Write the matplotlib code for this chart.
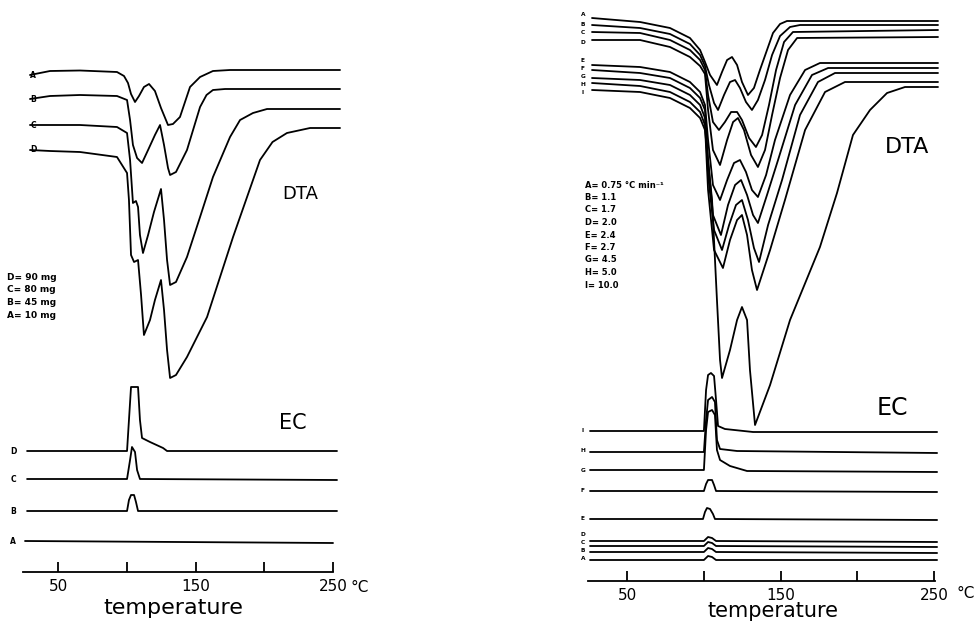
import matplotlib.pyplot as plt

# temperatures in degC, signal in arbitrary units (DTA endotherm downwards)
# ---- left figure: sample mass series, DTA ----
dta1_A = [(29.6, 525), (44.2, 529), (66.0, 529.5), (92.9, 528), (98.0, 524), (100.9, 517),
          (103.1, 506), (106.0, 498), (108.9, 504), (112.5, 513), (116.2, 516), (120.5, 509),
          (124.9, 492), (130.0, 475), (133.6, 476), (138.7, 483), (146.0, 513), (153.3, 523),
          (162.7, 529), (175.1, 530), (255.1, 530)]
dta1_B = [(29.6, 501), (44.2, 504), (66.0, 505), (92.9, 504), (100.2, 500), (102.4, 480),
          (104.5, 455), (107.5, 442), (111.1, 437), (115.5, 450), (120.5, 465), (124.2, 475),
          (127.1, 455), (130.0, 432), (131.5, 425), (135.8, 428), (143.8, 450), (153.3, 493),
          (158.0, 505), (162.7, 510), (171.5, 511), (255.1, 511)]
dta1_C = [(29.6, 475), (66.0, 475), (92.9, 473), (100.2, 467), (102.4, 440), (104.5, 397),
          (106.7, 399), (108.2, 393), (109.6, 365), (111.8, 347), (115.5, 365), (119.8, 388),
          (124.9, 411), (127.1, 380), (129.3, 340), (131.5, 315), (135.8, 318), (143.8, 343),
          (153.3, 383), (162.7, 423), (175.1, 463), (182.4, 480), (191.8, 487), (202.0, 491),
          (255.1, 491)]
dta1_D = [(29.6, 450), (44.2, 449), (66.0, 448), (92.9, 443), (100.2, 427), (101.6, 400),
          (103.1, 345), (105.3, 338), (108.2, 340), (110.4, 305), (112.5, 265), (116.9, 280),
          (120.5, 300), (124.9, 320), (127.1, 290), (129.3, 250), (131.5, 222), (135.8, 225),
          (143.8, 243), (158.4, 283), (177.3, 363), (196.9, 440), (206.0, 458), (216.5, 467),
          (233.3, 472), (255.1, 472)]

# ---- left figure: EC ----
ec1_D = [(27.5, 149), (100.2, 149), (101.6, 180), (103.1, 213), (108.2, 213), (109.6, 180),
         (111.1, 162), (116.9, 158), (126.4, 152), (129.3, 149), (252.9, 149)]
ec1_C = [(27.5, 121), (100.2, 121), (102.4, 140), (103.8, 153), (106.0, 148), (107.5, 130),
         (109.6, 121), (252.9, 120)]
ec1_B = [(27.5, 89), (100.2, 89), (101.6, 100), (103.1, 105), (105.3, 105), (106.7, 98),
         (108.2, 89), (252.9, 89)]
ec1_A = [(26.0, 59), (250.0, 57)]

masses = ["D= 90 mg", "C= 80 mg", "B= 45 mg", "A= 10 mg"]

# ---- right figure: heating-rate series, DTA ----
dta2_A = [(27.2, 582), (58.5, 578), (78.0, 572), (91.0, 562), (97.6, 550), (100.8, 538),
          (104.1, 525), (108.6, 515), (111.9, 528), (115.2, 540), (118.4, 543), (121.7, 535),
          (124.9, 518), (128.8, 505), (132.7, 512), (136.6, 530), (141.2, 550), (145.1, 567),
          (149.7, 576), (154.2, 579), (252.6, 579)]
dta2_B = [(27.2, 575), (58.5, 572), (78.0, 566), (91.0, 556), (97.6, 545), (100.8, 534),
          (103.4, 515), (106.7, 497), (109.3, 490), (113.2, 505), (117.1, 518), (120.4, 520),
          (123.6, 512), (127.5, 498), (131.4, 490), (135.3, 500), (139.9, 520), (144.5, 545),
          (149.7, 564), (156.2, 573), (162.7, 575), (252.6, 575)]
dta2_C = [(27.2, 568), (58.5, 567), (78.0, 560), (91.0, 550), (97.6, 540), (100.8, 530),
          (102.8, 505), (106.0, 478), (109.9, 470), (113.8, 478), (117.8, 488), (121.7, 488),
          (124.9, 480), (129.5, 462), (134.0, 453), (138.0, 465), (142.5, 495), (147.1, 530),
          (152.3, 558), (158.1, 568), (252.6, 570)]
dta2_D = [(27.2, 560), (58.5, 560), (78.0, 553), (91.0, 543), (97.6, 534), (100.8, 526),
          (102.8, 490), (106.0, 450), (110.6, 435), (115.2, 460), (119.1, 478), (122.3, 482),
          (126.2, 470), (130.8, 445), (135.3, 433), (139.9, 450), (144.5, 485), (149.7, 522),
          (154.9, 550), (160.8, 562), (252.6, 563)]
dta2_E = [(27.2, 535), (58.5, 533), (78.0, 528), (91.0, 518), (97.6, 508), (100.8, 495),
          (102.8, 460), (106.0, 415), (110.6, 400), (115.2, 420), (119.7, 437), (123.6, 440),
          (127.5, 428), (131.4, 410), (135.3, 403), (140.6, 425), (146.4, 460), (156.2, 505),
          (166.0, 530), (175.7, 537), (252.6, 537)]
dta2_F = [(27.2, 530), (58.5, 527), (78.0, 522), (91.0, 512), (97.6, 502), (100.8, 490),
          (102.8, 440), (106.0, 385), (111.2, 365), (115.8, 395), (120.4, 415), (124.3, 420),
          (128.2, 405), (132.1, 385), (135.3, 377), (141.2, 405), (148.4, 440), (159.5, 495),
          (170.5, 525), (181.0, 532), (252.6, 532)]
dta2_G = [(27.2, 522), (58.5, 520), (78.0, 515), (91.0, 505), (97.6, 495), (100.8, 482),
          (102.8, 425), (106.7, 370), (111.9, 350), (116.5, 375), (121.0, 395), (124.9, 400),
          (128.8, 380), (132.7, 352), (136.0, 338), (141.9, 375), (151.0, 420), (162.7, 485),
          (174.4, 518), (185.5, 527), (252.6, 527)]
dta2_H = [(27.2, 517), (58.5, 514), (78.0, 508), (91.0, 498), (97.6, 488), (100.8, 475),
          (102.8, 410), (106.7, 350), (112.5, 332), (117.1, 360), (121.7, 380), (124.9, 385),
          (128.2, 365), (131.4, 330), (134.7, 310), (143.2, 350), (152.9, 400), (166.0, 470),
          (179.0, 508), (192.0, 518), (252.6, 518)]
dta2_I = [(27.2, 510), (58.5, 508), (78.0, 502), (91.0, 492), (97.6, 482), (100.8, 470),
          (105.4, 400), (108.6, 300), (110.6, 240), (111.9, 222), (117.1, 250), (121.7, 280),
          (124.9, 293), (128.2, 280), (130.1, 230), (133.4, 175), (143.2, 215), (156.2, 280),
          (175.7, 353), (186.8, 407), (197.2, 465), (208.3, 490), (219.4, 507), (231.1, 513),
          (252.6, 513)]

# ---- right figure: EC ----
ec2_I = [(25.9, 169), (100.1, 169), (101.5, 210), (102.8, 225), (104.7, 227), (106.7, 224),
         (108.0, 200), (109.3, 174), (113.8, 171), (132.1, 168), (252.0, 168)]
ec2_H = [(25.9, 148), (100.1, 148), (101.5, 180), (102.8, 200), (105.4, 203), (107.3, 198),
         (108.6, 160), (110.6, 151), (121.7, 149), (252.0, 147)]
ec2_G = [(25.9, 130), (100.1, 130), (101.5, 170), (102.8, 188), (105.4, 190), (107.3, 185),
         (108.6, 150), (110.6, 140), (117.1, 134), (128.2, 129), (252.0, 128)]
ec2_F = [(25.9, 109), (100.1, 109), (101.5, 116), (102.8, 120), (105.4, 120), (106.7, 115),
         (108.0, 109), (252.0, 108)]
ec2_E = [(25.9, 81), (99.5, 81), (100.8, 88), (102.1, 92), (104.1, 91), (106.0, 86),
         (107.3, 81), (252.0, 80)]
ec2_D = [(25.9, 59), (100.1, 59), (102.8, 63), (105.4, 62), (108.0, 59), (252.0, 58)]
ec2_C = [(25.9, 54), (100.1, 54), (102.8, 58), (105.4, 57), (108.0, 54), (252.0, 53)]
ec2_B = [(25.9, 48), (100.1, 48), (102.8, 52), (105.4, 51), (108.0, 48), (252.0, 47)]
ec2_A = [(25.9, 40), (100.1, 40), (102.8, 44), (105.4, 43), (108.0, 40), (252.0, 40)]

rates = ["A= 0.75 \u00b0C min\u207b\u00b9", "B= 1.1", "C= 1.7", "D= 2.0", "E= 2.4",
         "F= 2.7", "G= 4.5", "H= 5.0", "I= 10.0"]

ticks = [50, 100, 150, 200, 250]
tick_labels = ["50", "", "150", "", "250"]

LW = 1.3
plt.rcParams["font.family"] = ["DejaVu Sans"]


def setup_axes(ax, xlim, axis_y, bounds):
    ax.set_xlim(*xlim)
    ax.set_ylim(-23, 600)
    for side in ("top", "left", "right"):
        ax.spines[side].set_visible(False)
    ax.spines["bottom"].set_position(("data", axis_y))
    ax.spines["bottom"].set_bounds(*bounds)
    ax.spines["bottom"].set_linewidth(LW)
    ax.set_yticks([])
    ax.set_xticks(ticks, labels=tick_labels)
    ax.tick_params(axis="x", direction="in", length=7, width=LW, pad=5, labelsize=11)
    ax.patch.set_alpha(0)


def draw(ax, curves):
    for pts in curves:
        t, y = zip(*pts)
        ax.plot(t, y, color="black", lw=LW, solid_joinstyle="round", solid_capstyle="round")


fig = plt.figure(figsize=(9.77, 6.23), dpi=100)
axL = fig.add_axes([0, 0, 488 / 977, 1])
axR = fig.add_axes([488 / 977, 0, 489 / 977, 1])

small = dict(fontsize=5.5, fontweight="bold", ha="center", va="center")
tiny = dict(fontsize=4.2, fontweight="bold", ha="center", va="center")

# left
setup_axes(axL, (7.82, 362.7), 28.3, (24.5, 250))
draw(axL, [dta1_A, dta1_B, dta1_C, dta1_D, ec1_D, ec1_C, ec1_B, ec1_A])
for lab, pts in zip("ABCD", [dta1_A, dta1_B, dta1_C, dta1_D]):
    axL.text(31.8, pts[0][1], lab, **small)
for lab, pts in zip("DCBA", [ec1_D, ec1_C, ec1_B, ec1_A]):
    axL.text(17.3, pts[0][1], lab, **small)
for i, txt in enumerate(masses):
    axL.text(12.9, 323 - 12.7 * i, txt, fontsize=6.5, fontweight="bold", va="center")
axL.text(226.0, 406, "DTA", fontsize=13, ha="center", va="center")
axL.text(220.9, 177, "EC", fontsize=15, ha="center", va="center")
axL.text(269.6, 13, "\u00b0C", fontsize=11, ha="center", va="center")
axL.text(133.6, -8, "temperature", fontsize=16, ha="center", va="center")

# right
setup_axes(axR, (-40.55, 278.0), 19, (24.6, 250.6))
dta2 = [dta2_A, dta2_B, dta2_C, dta2_D, dta2_E, dta2_F, dta2_G, dta2_H, dta2_I]
ec2 = [ec2_I, ec2_H, ec2_G, ec2_F, ec2_E, ec2_D, ec2_C, ec2_B, ec2_A]
draw(axR, dta2 + ec2)
dta2_label_y = [586, 576, 567, 558, 539, 531, 523, 515, 507]
for lab, yy in zip("ABCDEFGHI", dta2_label_y):
    axR.text(21.3, yy, lab, **tiny)
ec2_label_y = [169, 150, 130, 110, 82, 66, 58, 50, 41]
for lab, yy in zip("IHGFEDCBA", ec2_label_y):
    axR.text(21.3, yy, lab, **tiny)
for i, txt in enumerate(rates):
    axR.text(22.6, 415 - 12.5 * i, txt, fontsize=6, fontweight="bold", va="center")
axR.text(232.4, 453, "DTA", fontsize=16, ha="center", va="center")
axR.text(222.6, 192, "EC", fontsize=17, ha="center", va="center")
axR.text(270.9, 7, "\u00b0C", fontsize=11, ha="center", va="center")
axR.text(145.1, -11, "temperature", fontsize=15, ha="center", va="center")

fig.savefig("out.png", dpi=100, facecolor="white")
